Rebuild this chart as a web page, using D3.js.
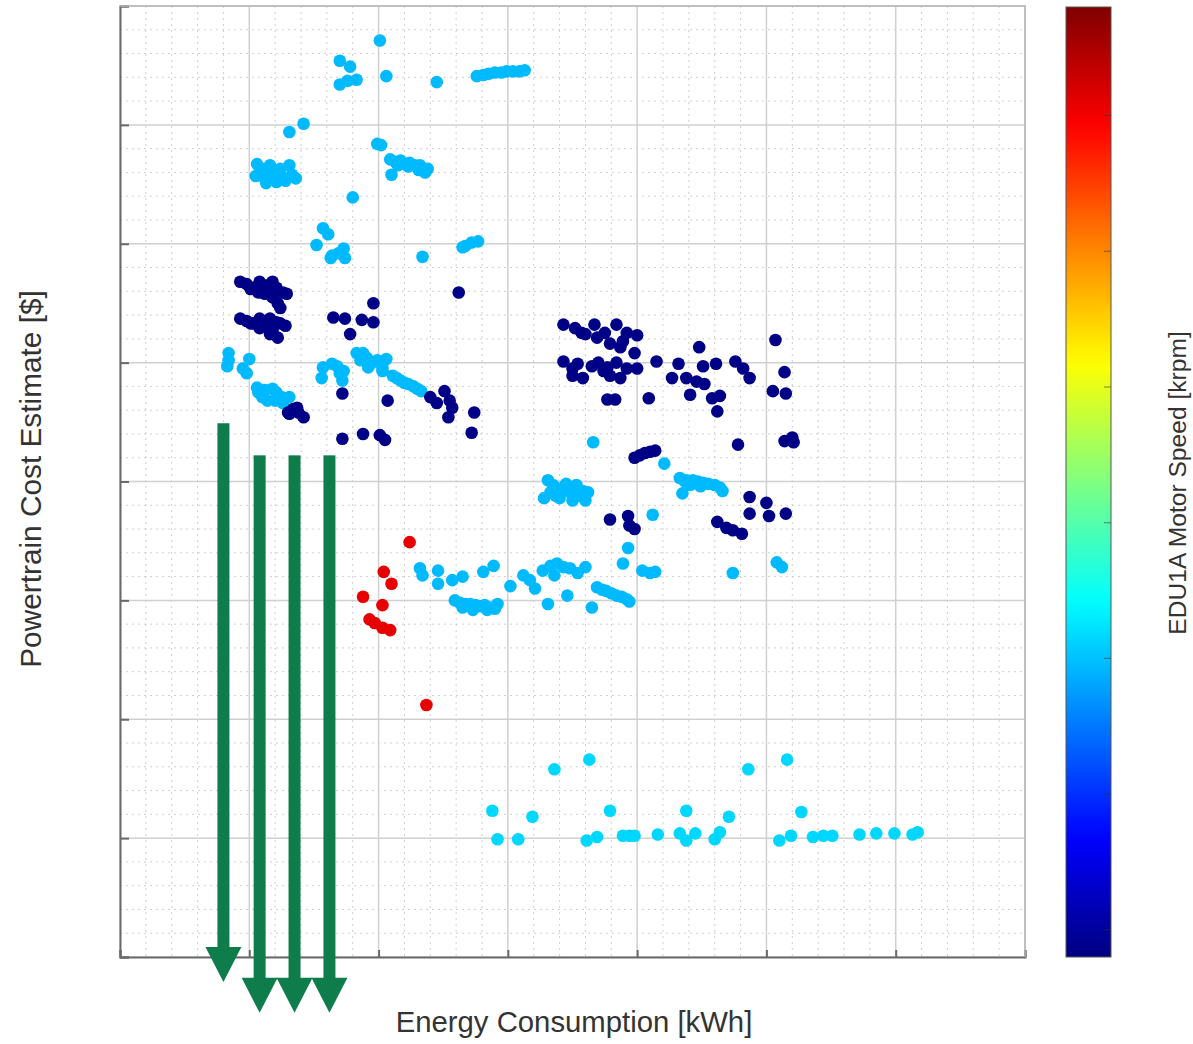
<!DOCTYPE html>
<html>
<head>
<meta charset="utf-8">
<script src="https://cdn.jsdelivr.net/npm/d3@7"></script>
<style>
  body { margin: 0; background: #fff; }
  svg { display: block; }
  text { font-family: "Liberation Sans", Arial, Helvetica, sans-serif; fill: #333; }
</style>
</head>
<body>
<svg id="chart" width="1193" height="1044"></svg>
<script>
// ---- data ----------------------------------------------------------------
const energyDomain = [0, 7];          // kWh
const costDomain = [0, 8];            // $ (thousands)
const speedDomain = [1.6, 15.6];      // krpm
const energyMajorTicks = [0, 1, 2, 3, 4, 5, 6, 7];
const costMajorTicks = [0, 1, 2, 3, 4, 5, 6, 7, 8];
const speedTicks = [2, 4, 6, 8, 10, 12, 14];

// motor speed of each design group [krpm]
const lowSpeed = 1.7;
const midSpeed = 5.9;
const midSpeedBottom = 6.3;
const highSpeed = 14.2;

// [energy consumption kWh, powertrain cost]
const lowSpeedDesigns = [
  [0.93,5.68],[0.98,5.66],[1.03,5.63],[1.08,5.68],[1.14,5.65],[1.18,5.68],[1.21,5.63],[1.26,5.59],
  [1.29,5.58],[1.12,5.58],[1.18,5.55],[1.22,5.50],[1.24,5.46],[1.07,5.59],[1.01,5.62],[1.18,5.59],
  [0.93,5.37],[0.98,5.35],[1.03,5.33],[1.08,5.37],[1.12,5.31],[1.16,5.37],[1.18,5.27],[1.24,5.33],
  [1.28,5.31],[1.22,5.21],[1.16,5.24],[1.08,5.29],[1.01,5.33],[1.21,5.34],
  [1.30,4.58],[1.34,4.61],[1.38,4.58],[1.42,4.54],[1.37,4.62],[1.31,4.57],
  [1.65,5.38],[1.74,5.37],[1.87,5.36],[1.96,5.50],[1.96,5.34],[1.78,5.24],[2.62,5.59],
  [1.72,4.74],[2.07,4.68],[2.40,4.71],[2.45,4.66],[2.51,4.76],[2.55,4.68],[2.57,4.62],[2.54,4.54],
  [2.74,4.58],[2.72,4.41],[1.72,4.36],[1.88,4.40],[2.01,4.39],[2.05,4.35],
  [3.43,5.32],[3.52,5.29],[3.60,5.24],[3.67,5.32],[3.69,5.21],[3.75,5.25],[3.84,5.32],[3.79,5.16],
  [3.87,5.13],[3.92,5.25],[4.00,5.23],[3.89,5.18],[3.98,5.08],[3.57,5.25],
  [3.43,5.01],[3.50,4.95],[3.54,4.99],[3.58,4.87],[3.65,4.97],[3.70,5.00],[3.74,4.93],[3.79,4.89],
  [3.84,5.00],[3.87,4.87],[3.92,4.95],[4.00,4.95],[3.50,4.89],[3.77,4.96],
  [3.77,4.69],[3.83,4.69],[4.09,4.70],[4.15,5.01],[4.32,4.99],[4.27,4.87],[4.38,4.87],[4.46,4.84],
  [4.52,4.82],[4.51,4.97],[4.48,5.13],[4.61,4.99],[4.41,4.73],[4.58,4.70],[4.64,4.72],[4.62,4.59],
  [4.76,5.01],[4.82,4.95],[4.87,4.87],[5.07,5.19],[5.14,4.92],[5.05,4.76],[5.15,4.74],
  [4.78,4.31],[5.14,4.34],[5.20,4.37],[5.21,4.33],
  [3.98,4.20],[4.02,4.22],[4.06,4.24],[4.10,4.25],[4.14,4.26],
  [3.79,3.68],[3.93,3.71],[3.94,3.63],[3.98,3.60],
  [4.87,3.87],[4.87,3.73],[5.00,3.82],[5.02,3.71],[5.15,3.73],
  [4.62,3.66],[4.69,3.61],[4.74,3.59],[4.81,3.56]
];

const midSpeedDesigns = [
  [2.01,7.71],[1.70,7.54],[1.78,7.49],[1.70,7.34],[1.76,7.37],[1.83,7.38],[2.06,7.41],[2.45,7.36],
  [2.76,7.41],[2.81,7.42],[2.85,7.43],[2.90,7.44],[2.95,7.44],[2.99,7.45],[3.04,7.45],[3.09,7.45],[3.13,7.46],
  [1.31,6.94],[1.42,7.01],[1.99,6.84],[2.02,6.83],
  [1.06,6.67],[1.10,6.63],[1.05,6.57],[1.12,6.55],[1.18,6.59],[1.16,6.66],[1.24,6.63],[1.26,6.56],
  [1.21,6.52],[1.31,6.66],[1.33,6.58],[1.28,6.53],[1.36,6.55],[1.13,6.51],
  [2.10,6.58],[2.09,6.71],[2.13,6.69],[2.17,6.70],[2.20,6.67],[2.24,6.68],[2.28,6.66],[2.32,6.66],
  [2.35,6.63],[2.38,6.63],[2.15,6.66],[2.23,6.65],[2.31,6.62],[2.36,6.60],
  [1.80,6.39],[1.57,6.13],[1.61,6.08],[1.52,5.99],[1.64,5.90],[1.69,5.92],[1.73,5.96],[1.74,5.88],
  [1.63,5.88],[2.34,5.89],[2.65,5.97],[2.67,5.98],[2.72,6.01],[2.77,6.02],
  [0.84,5.08],[0.84,5.02],[0.83,4.97],[1.00,5.03],[0.95,4.95],[0.98,4.91],[1.06,4.79],[1.07,4.75],
  [1.12,4.77],[1.18,4.78],[1.21,4.75],[1.10,4.71],[1.14,4.68],[1.20,4.68],[1.25,4.71],[1.31,4.71],[1.26,4.66],
  [1.57,4.96],[1.56,4.87],[1.64,4.99],[1.68,4.97],[1.70,4.91],[1.73,4.93],[1.72,4.85],
  [1.83,5.08],[1.88,5.08],[1.86,5.02],[1.91,5.04],[1.95,5.00],[1.99,5.02],[2.03,4.96],[2.06,5.03],
  [2.03,4.93],[1.92,4.96],
  [2.11,4.89],[2.14,4.87],[2.17,4.85],[2.20,4.83],[2.23,4.82],[2.27,4.80],[2.30,4.78],[2.33,4.76],
  [3.66,4.33],[4.21,4.15],
  [3.31,4.01],[3.35,3.97],[3.33,3.91],[3.37,3.88],[3.41,3.94],[3.45,3.98],[3.48,3.91],[3.53,3.97],
  [3.55,3.88],[3.58,3.92],[3.62,3.91],[3.40,3.86],[3.50,3.84],[3.60,3.84],[3.28,3.86],
  [4.33,4.03],[4.38,4.01],[4.43,4.01],[4.47,4.00],[4.51,3.99],[4.55,3.98],[4.60,3.97],[4.64,3.95],
  [4.66,3.92],[4.41,3.97],[4.49,3.96],[4.37,4.00],[4.35,3.90],
  [4.12,3.72],[3.93,3.44],[3.89,3.31],[4.04,3.25],[4.10,3.23],[4.14,3.24],[4.74,3.23],[5.08,3.32],[5.12,3.28],
  [2.32,3.27],[2.34,3.21],[2.46,3.25],[2.46,3.14],[2.57,3.17],[2.65,3.20],[2.81,3.24],[2.89,3.29],[3.02,3.12],
  [2.59,3.00],[2.63,2.98],[2.67,2.97],[2.71,2.97],[2.75,2.96],[2.79,2.95],[2.82,2.96],[2.86,2.94],
  [2.90,2.93],[2.92,2.97],[2.65,2.94],[2.73,2.92],[2.84,2.92],
  [3.12,3.21],[3.17,3.17],[3.21,3.10],[3.27,3.25],[3.33,3.29],[3.38,3.31],[3.43,3.28],[3.48,3.27],
  [3.54,3.23],[3.60,3.28],[3.36,3.21],[3.31,2.97],[3.46,3.04],[3.65,2.94],
  [3.69,3.11],[3.73,3.09],[3.76,3.08],[3.80,3.06],[3.84,3.04],[3.88,3.03],[3.92,3.01],[3.94,2.99]
];

const midSpeedBottomDesigns = [
  [2.88,1.23],[2.92,0.99],[3.08,0.99],[3.19,1.18],[3.36,1.58],[3.63,1.66],[3.61,0.98],[3.69,1.01],
  [3.79,1.23],[3.89,1.02],[3.94,1.02],[3.98,1.02],[4.16,1.03],[4.33,1.04],[4.38,1.23],[4.38,0.98],
  [4.45,1.04],[4.60,0.99],[4.64,1.05],[4.71,1.18],[4.86,1.58],[5.16,1.66],[5.10,0.98],[5.19,1.02],
  [5.27,1.22],[5.36,1.01],[5.44,1.02],[5.51,1.02],[5.72,1.03],[5.85,1.04],[5.99,1.04],[6.13,1.03],[6.17,1.05]
];

const highSpeedDesigns = [
  [2.24,3.49],[2.04,3.24],[2.10,3.14],[1.88,3.03],[2.03,2.96],[1.93,2.84],[1.97,2.81],[2.03,2.77],
  [2.09,2.75],[2.37,2.12]
];

// highlighted energy levels: [energy, shaft top cost, arrow tip cost]
const energyArrows = [
  [0.80, 4.49, -0.21],
  [1.08, 4.22, -0.47],
  [1.35, 4.22, -0.47],
  [1.62, 4.22, -0.47]
];

// ---- layout ----------------------------------------------------------------
const plot = { left: 120, right: 1025, top: 6, bottom: 957 };
const bar = { x: 1066, y: 7, w: 45, h: 950 };

const svg = d3.select("#chart");

const x = d3.scaleLinear().domain(energyDomain).range([plot.left, plot.right]);
const y = d3.scaleLinear().domain(costDomain).range([plot.bottom, plot.top]);

// jet colormap
const clamp01 = v => Math.max(0, Math.min(1, v));
const jet = t => {
  const r = clamp01(1.5 - Math.abs(4 * t - 3));
  const g = clamp01(1.5 - Math.abs(4 * t - 2));
  const b = clamp01(1.5 - Math.abs(4 * t - 1));
  return d3.rgb(r * 255, g * 255, b * 255).toString();
};
const color = d3.scaleSequential(jet).domain(speedDomain);

// ---- grid ----------------------------------------------------------------
const energyMinor = d3.range(energyDomain[0], energyDomain[1] + 1e-9, 0.2)
  .filter(v => Math.abs(v - Math.round(v)) > 1e-6);
const costMinor = d3.range(costDomain[0], costDomain[1] + 1e-9, 0.2)
  .filter(v => Math.abs(v - Math.round(v)) > 1e-6);

const grid = svg.append("g");
grid.selectAll(".vminor").data(energyMinor).join("line")
  .attr("x1", d => x(d)).attr("x2", d => x(d))
  .attr("y1", plot.top).attr("y2", plot.bottom)
  .attr("stroke", "#cfcfcf").attr("stroke-width", 1).attr("stroke-dasharray", "2,4");
grid.selectAll(".hminor").data(costMinor).join("line")
  .attr("y1", d => y(d)).attr("y2", d => y(d))
  .attr("x1", plot.left).attr("x2", plot.right)
  .attr("stroke", "#cfcfcf").attr("stroke-width", 1).attr("stroke-dasharray", "2,4");
grid.selectAll(".vmajor").data(energyMajorTicks).join("line")
  .attr("x1", d => x(d)).attr("x2", d => x(d))
  .attr("y1", plot.top).attr("y2", plot.bottom)
  .attr("stroke", "#d0d0d0").attr("stroke-width", 1.5);
grid.selectAll(".hmajor").data(costMajorTicks).join("line")
  .attr("y1", d => y(d)).attr("y2", d => y(d))
  .attr("x1", plot.left).attr("x2", plot.right)
  .attr("stroke", "#d0d0d0").attr("stroke-width", 1.5);

// ---- axes (ticks inside, no labels) -----------------------------------------
svg.append("g").attr("transform", `translate(0,${plot.bottom})`)
  .call(d3.axisBottom(x).tickValues(energyMajorTicks).tickSize(-7).tickFormat(""))
  .call(g => g.select(".domain").attr("stroke", "#6a6a6a").attr("stroke-width", 2))
  .call(g => g.selectAll(".tick line").attr("stroke", "#6a6a6a").attr("stroke-width", 2));
svg.append("g").attr("transform", `translate(${plot.left},0)`)
  .call(d3.axisLeft(y).tickValues(costMajorTicks).tickSize(-9).tickFormat(""))
  .call(g => g.select(".domain").attr("stroke", "#6a6a6a").attr("stroke-width", 2))
  .call(g => g.selectAll(".tick line").attr("stroke", "#6a6a6a").attr("stroke-width", 2));
// top and right frame
svg.append("path")
  .attr("d", `M${plot.left},${plot.top}H${plot.right}V${plot.bottom}`)
  .attr("fill", "none").attr("stroke", "#b5b5b5").attr("stroke-width", 1.5);

// ---- designs ----------------------------------------------------------------
const groups = [
  { speed: midSpeedBottom, pts: midSpeedBottomDesigns },
  { speed: midSpeed, pts: midSpeedDesigns },
  { speed: lowSpeed, pts: lowSpeedDesigns },
  { speed: highSpeed, pts: highSpeedDesigns }
];
const dots = svg.append("g");
groups.forEach(gr => {
  dots.append("g").selectAll("circle").data(gr.pts).join("circle")
    .attr("cx", d => x(d[0])).attr("cy", d => y(d[1]))
    .attr("r", 6.3)
    .attr("fill", color(gr.speed));
});

// ---- highlighted energy arrows ------------------------------------------------
const arrowColor = "#0f7d4b";
const shaftW = 12, headW = 36, headH = 35;
const arrows = svg.append("g");
energyArrows.forEach(([e, top, tip]) => {
  const cx = x(e), yTop = y(top), yTip = y(tip), yBase = yTip - headH;
  arrows.append("rect")
    .attr("x", cx - shaftW / 2).attr("y", yTop)
    .attr("width", shaftW).attr("height", yBase - yTop + 1)
    .attr("fill", arrowColor);
  arrows.append("path")
    .attr("d", `M${cx - headW / 2},${yBase}L${cx + headW / 2},${yBase}L${cx},${yTip}Z`)
    .attr("fill", arrowColor);
});

// ---- colorbar -------------------------------------------------------------
const defs = svg.append("defs");
const grad = defs.append("linearGradient").attr("id", "jetGrad")
  .attr("x1", 0).attr("y1", 1).attr("x2", 0).attr("y2", 0);
d3.range(0, 1.0001, 0.02).forEach(t => {
  grad.append("stop").attr("offset", t).attr("stop-color", jet(t));
});
svg.append("rect")
  .attr("x", bar.x).attr("y", bar.y).attr("width", bar.w).attr("height", bar.h)
  .attr("fill", "url(#jetGrad)").attr("stroke", "#555").attr("stroke-width", 1);
const cbScale = d3.scaleLinear().domain(speedDomain).range([bar.y + bar.h, bar.y]);
svg.append("g").selectAll("line").data(speedTicks).join("line")
  .attr("x1", bar.x + bar.w - 7).attr("x2", bar.x + bar.w)
  .attr("y1", d => cbScale(d)).attr("y2", d => cbScale(d))
  .attr("stroke", "#333").attr("stroke-opacity", 0.5).attr("stroke-width", 1.2);

// ---- labels ----------------------------------------------------------------
svg.append("text")
  .attr("x", 574).attr("y", 1032)
  .attr("text-anchor", "middle")
  .attr("font-size", 29.3)
  .text("Energy Consumption [kWh]");
svg.append("text")
  .attr("transform", "translate(41,479) rotate(-90)")
  .attr("text-anchor", "middle")
  .attr("font-size", 29.8)
  .text("Powertrain Cost Estimate [$]");
svg.append("text")
  .attr("transform", "translate(1186,483) rotate(-90)")
  .attr("text-anchor", "middle")
  .attr("font-size", 24.6)
  .text("EDU1A Motor Speed [krpm]");
</script>
</body>
</html>
